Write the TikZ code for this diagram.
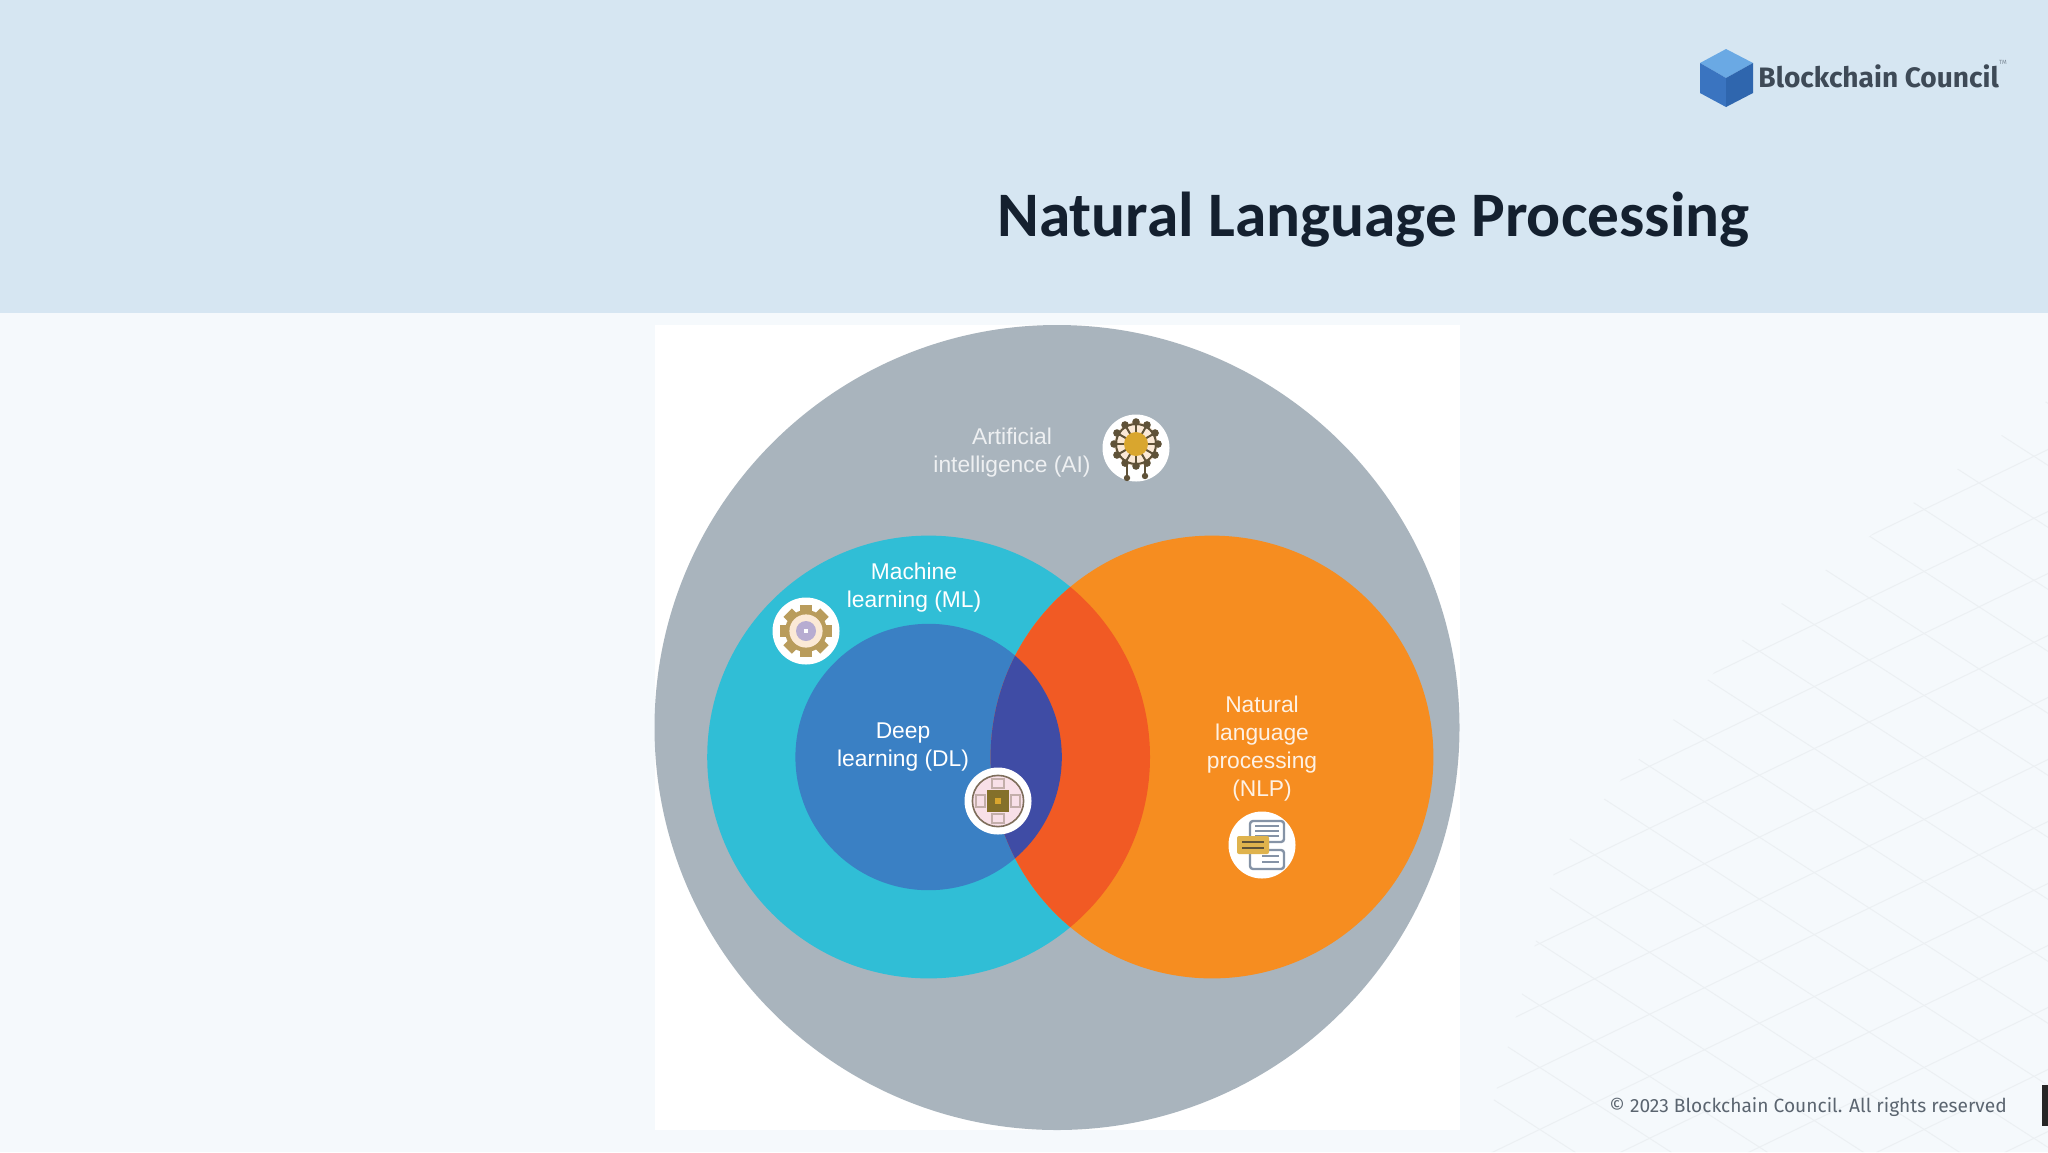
\documentclass[tikz,border=0pt]{standalone}
\usepackage{fontspec}
\setmainfont{Carlito}
\newfontfamily\lblfont{Liberation Sans}
\newfontfamily\logofont{Fira Sans}
\definecolor{bgc}{HTML}{F5F9FC}
\definecolor{headc}{HTML}{D6E6F2}
\definecolor{meshc}{HTML}{ECF0F3}
\definecolor{greyc}{HTML}{A9B4BD}
\definecolor{mlc}{HTML}{30BED6}
\definecolor{nlpc}{HTML}{F68D20}
\definecolor{dlc}{HTML}{3A80C4}
\definecolor{redc}{HTML}{F15A24}
\definecolor{purc}{HTML}{3F4CA5}
\definecolor{titlec}{HTML}{14202F}
\definecolor{logot}{HTML}{3E4A57}
\definecolor{brn}{HTML}{5F5238}
\definecolor{tan}{HTML}{B99C5C}
\definecolor{gold}{HTML}{D9A62E}
\definecolor{pinkc}{HTML}{F8E0E8}
\definecolor{creamc}{HTML}{FBE9D6}
\definecolor{chipc}{HTML}{84702A}
\definecolor{bubc}{HTML}{8593A6}
\definecolor{cubetop}{HTML}{6AA9E4}
\definecolor{cubeleft}{HTML}{3A74C0}
\definecolor{cuberight}{HTML}{2F66AE}
\tikzset{
  lbl/.style={text=white,font=\lblfont\fontsize{11.4}{14}\selectfont,align=center,inner sep=0pt},
  badge/.style={circle,fill=white,minimum size=33.5pt,inner sep=0pt},
  mesh/.style={draw=meshc,line width=0.5pt}
}
\begin{document}
\begin{tikzpicture}[x=0.5pt,y=-0.5pt]
\useasboundingbox (0,0) rectangle (2048,1152);
\fill[bgc] (0,0) rectangle (2048,1152);
% faint mesh
\begin{scope}
\clip (1480,1152) -- (1560,850) -- (1760,620) -- (2048,400) -- (2048,1152) -- cycle;
\foreach \i in {0,...,22}{
  \draw[mesh] (1460,{300+\i*62}) -- ++(620,-300);
  \draw[mesh] (1460,{-100+\i*62}) -- ++(620,400);
}
\end{scope}
\fill[headc] (0,0) rectangle (2048,313);
\fill[white] (655,325) rectangle (1460,1130);
% venn
\fill[greyc] (1057,727.5) circle[radius=201.25pt];
\fill[mlc] (928.6,757) circle[radius=110.7pt];
\fill[nlpc] (1212,757) circle[radius=110.7pt];
\fill[dlc] (928.6,757) circle[radius=66.6pt];
\begin{scope}
\clip (1212,757) circle[radius=110.7pt];
\fill[redc] (928.6,757) circle[radius=110.7pt];
\fill[purc] (928.6,757) circle[radius=66.6pt];
\end{scope}
% labels
\node[lbl,text=white!80!greyc] (ailbl) at (1012,452.5) {Artificial\\intelligence (AI)};
\node[lbl] (mllbl) at (914,588) {Machine\\learning (ML)};
\node[lbl] (dllbl) at (903,747.5) {Deep\\learning (DL)};
\node[lbl,text=white!88!nlpc] (nlplbl) at (1262,749) {Natural\\language\\processing\\(NLP)};
% badges
\node[badge] (aibadge) at (1136,448) {};
\node[badge] (mlbadge) at (806,631) {};
\node[badge] (dlbadge) at (998,801) {};
\node[badge] (nlpbadge) at (1262,845) {};
% AI icon: brain network
\begin{scope}[shift={(aibadge.center)}]
\fill[creamc] (0,-4) circle[radius=11pt];
\foreach \a in {0,30,...,330}{
  \draw[brn,line width=1pt] (0,-4) -- ++(\a:20);
  \fill[brn] (0,-4) ++(\a:22) circle[radius=1.9pt];
}
\draw[brn,line width=1pt] (0,-4) circle[radius=10pt];
\fill[gold] (0,-4) circle[radius=6pt];
\draw[brn,line width=1pt] (-9,16) -- (-9,30) (9,16) -- (9,28);
\fill[brn] (-9,30) circle[radius=1.6pt] (9,28) circle[radius=1.6pt];
\end{scope}
% ML icon: gear
\begin{scope}[shift={(mlbadge.center)}]
\foreach \a in {0,45,...,315}{
  \fill[tan,rotate=\a] (-6,-26) rectangle (6,-16);
}
\fill[tan] (0,0) circle[radius=10.5pt];
\fill[creamc] (0,0) circle[radius=8.3pt];
\fill[purc!35!pinkc] (0,0) circle[radius=5pt];
\fill[white] (-2,-2) rectangle (2,2);
\end{scope}
% DL icon: chip
\begin{scope}[shift={(dlbadge.center)}]
\fill[pinkc] (0,0) circle[radius=12.8pt];
\draw[brn!80!pinkc,line width=0.8pt] (0,0) circle[radius=12.8pt];
\foreach \a in {0,90,180,270}{
  \draw[brn!35!pinkc,line width=0.6pt,rotate=\a] (-6,-22) rectangle (6,-13);
}
\fill[chipc] (-11,-11) rectangle (11,11);
\fill[gold] (-3,-3) rectangle (3,3);
\end{scope}
% NLP icon: chat bubbles
\begin{scope}[shift={(nlpbadge.center)}]
\draw[bubc,line width=1.2pt,fill=white,rounded corners=1.5pt] (-12,-24) rectangle (22,-3);
\draw[bubc,line width=1.2pt,fill=white,rounded corners=1.5pt] (-12,5) rectangle (22,24);
\foreach \y in {-19,-14,-9}{\draw[bubc,line width=1pt] (-7,\y) -- (17,\y);}
\foreach \y in {11,17}{\draw[bubc,line width=1pt] (0,\y) -- (17,\y);}
\fill[gold!85!white,rounded corners=1pt] (-25,-9) rectangle (7,9);
\draw[brn,line width=1pt] (-20,-3) -- (2,-3) (-20,3) -- (2,3);
\end{scope}
% logo
\coordinate (lt) at (1726,49);
\coordinate (ll) at (1700,63);
\coordinate (lr) at (1753,63);
\coordinate (lc) at (1726,78);
\coordinate (lb) at (1726,107);
\coordinate (lbl) at (1700,93);
\coordinate (lbr) at (1753,93);
\fill[cubetop] (lt) -- (lr) -- (lc) -- (ll) -- cycle;
\fill[cubeleft] (ll) -- (lc) -- (lb) -- (lbl) -- cycle;
\fill[cuberight] (lr) -- (lc) -- (lb) -- (lbr) -- cycle;
\node[anchor=base west,inner sep=0pt,text=logot,font=\logofont\bfseries\fontsize{14.05}{16}\selectfont] (logotext) at (1758,87) {Blockchain Council};
\node[inner sep=0pt,text=logot!60!headc,font=\logofont\fontsize{3}{3}\selectfont] (tm) at (2003,62) {TM};
% title
\node[anchor=base west,inner sep=0pt,text=titlec,font=\bfseries\fontsize{31.7}{38}\selectfont] (title) at (997,236) {Natural Language Processing};
% footer
\node[anchor=base west,inner sep=0pt,text=logot!85!white,font=\logofont\fontsize{9.58}{12}\selectfont] (copy) at (1609,1112) {© 2023 Blockchain Council. All rights reserved};
\fill[black!85] (2042,1085) rectangle (2048,1126);
\end{tikzpicture}
\end{document}
